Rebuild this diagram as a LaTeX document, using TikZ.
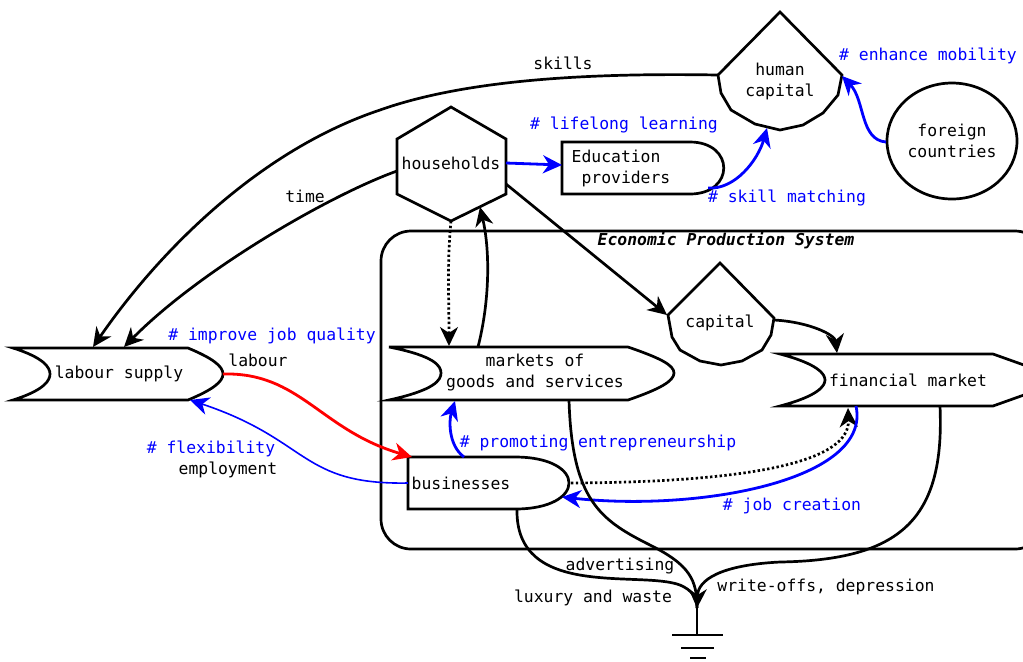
\documentclass[tikz,border=0pt]{standalone}
\usepackage{fontspec}
\setmainfont{DejaVu Sans Mono}
\usetikzlibrary{arrows.meta}
\begin{document}
\begin{tikzpicture}[x=0.5pt,y=-0.5pt,
  outline/.style={draw=black, line width=1.35pt, line join=miter},
  txt/.style={font=\fontsize{8.2}{10.5}\selectfont, align=center, inner sep=0pt},
  btxt/.style={txt, text=blue},
  tip/.style={-{Stealth[length=9.5pt,width=9pt,inset=3pt]}},
  flow/.style={draw=black, line width=1.35pt, tip},
  bflow/.style={draw=blue, line width=1.4pt, tip},
  dotflow/.style={flow, dash pattern=on 1.2pt off 1.2pt}]
\useasboundingbox (0,0) rectangle (1023,661);

% ---- economic production system frame
\draw[outline, rounded corners=15pt] (381,231) rectangle (1045,549);
\node[txt, font=\fontsize{8.2}{10.5}\selectfont\bfseries\itshape] (eps) at (726,241) {Economic Production System};

% ---- human capital
\draw[outline] (780,12) -- (842,75) -- (838,95) -- (823,113) -- (803,125) -- (780,130)
  -- (755,124) -- (731,110) -- (721,93) -- (718,75) -- cycle;
\node[txt] (hc) at (780,81) {human\\capital};
\coordinate (hc-w) at (718,75);
\coordinate (hc-e) at (842,76);
\coordinate (hc-s) at (767,128);

% ---- foreign countries
\draw[outline] (952,141) ellipse [x radius=32.5pt, y radius=29pt];
\node[txt] (fc) at (952,141) {foreign\\countries};
\coordinate (fc-w) at (886,142);

% ---- households
\draw[outline] (451,107) -- (506,139) -- (506,194) -- (451,221) -- (397,194) -- (397,139) -- cycle;
\node[txt] (hh) at (451,163) {households};
\coordinate (hh-e) at (506,163);
\coordinate (hh-se) at (506,184);
\coordinate (hh-w) at (397,171);
\coordinate (hh-s) at (451,221);
\coordinate (hh-sin) at (480,207);

% ---- education providers
\draw[outline] (562,142) -- (690,142) .. controls (735,142) and (735,194) .. (690,194) -- (562,194) -- cycle;
\node[txt, align=left] (edu) at (621,168) {Education\\\ providers};
\coordinate (edu-w) at (562,165);
\coordinate (edu-se) at (708,188);

% ---- labour supply
\draw[outline] (13,348) -- (188,348) .. controls (212,358) and (223,366) .. (223,374)
  .. controls (223,382) and (212,390) .. (188,400) -- (13,400)
  .. controls (45,390) and (50,380) .. (50,374) .. controls (50,368) and (45,358) .. (13,348) -- cycle;
\node[txt] (ls) at (119,374) {labour supply};
\coordinate (ls-n1) at (93,347);
\coordinate (ls-n2) at (124,347);
\coordinate (ls-e) at (223,374);
\coordinate (ls-se) at (190,400);

% ---- markets of goods and services
\draw[outline] (389,347) -- (628,347) .. controls (660,358) and (674,365) .. (674,373)
  .. controls (674,381) and (660,389) .. (628,400) -- (389,400)
  .. controls (435,390) and (441,380) .. (441,373) .. controls (441,366) and (435,356) .. (389,347) -- cycle;
\node[txt] (mk) at (535,373) {markets of\\goods and services};
\coordinate (mk-n1) at (449,346);
\coordinate (mk-n2) at (478,347);
\coordinate (mk-s1) at (455,401);
\coordinate (mk-s2) at (569,400);

% ---- capital
\draw[outline] (720,263) -- (774,318) -- (771,335) -- (762,350) -- (742,361) -- (721,365)
  -- (700,361) -- (680,350) -- (672,337) -- (668,315) -- cycle;
\node[txt] (cap) at (720,323) {capital};
\coordinate (cap-w) at (667,315);
\coordinate (cap-e) at (774,320);

% ---- financial market
\draw[outline] (780,354) -- (993,354) -- (1066,380) -- (993,406) -- (780,406)
  .. controls (818,396) and (825,386) .. (825,380) .. controls (825,374) and (818,364) .. (780,354) -- cycle;
\node[txt] (fm) at (908,380) {financial market};
\coordinate (fm-n) at (837,353);
\coordinate (fm-s1) at (848,408);
\coordinate (fm-s2) at (856,406);
\coordinate (fm-s3) at (940,406);

% ---- businesses
\draw[outline] (408,457) -- (515,457) .. controls (587,457) and (587,509) .. (515,509) -- (408,509) -- cycle;
\node[txt] (bus) at (461,483) {businesses};
\coordinate (bus-n) at (464,457);
\coordinate (bus-nw) at (412,457);
\coordinate (bus-w) at (408,483);
\coordinate (bus-e) at (571,483);
\coordinate (bus-se) at (562,497);
\coordinate (bus-s) at (517,509);

% ---- sink (ground)
\coordinate (gnd) at (697,608);
\coordinate (gnd-b) at (697,635);
\draw[line width=1.35pt] (gnd) -- (gnd-b);
\draw[line width=1.35pt] (672,635) -- (723,635);
\draw[line width=1.35pt] (681,648) -- (714,648);
\draw[line width=1.35pt] (690,658) -- (706,658);

% ---- flows
\draw[flow] (hc-w) .. controls (600,73) and (470,78) .. (380,110)
  .. controls (260,150) and (160,250) .. (ls-n1);
\node[txt] (l-skills) at (563,63) {skills};

\draw[flow] (hh-w) .. controls (330,195) and (200,270) .. (ls-n2);
\node[txt] (l-time) at (305,196) {time};

\draw[bflow] (hh-e) -- (edu-w);
\node[btxt] (l-life) at (624,125) {\# lifelong learning};

\draw[bflow] (edu-se) .. controls (735,190) and (758,160) .. (hc-s);
\node[btxt] (l-skm) at (787,198) {\# skill matching};

\draw[bflow] (fc-w) .. controls (860,140) and (865,100) .. (hc-e);
\node[btxt] (l-mob) at (928,56) {\# enhance mobility};

\draw[flow] (hh-se) -- (cap-w);

\draw[dotflow] (hh-s) .. controls (447,260) and (449,300) .. (mk-n1);
\draw[flow] (mk-n2) .. controls (490,300) and (490,250) .. (hh-sin);

\draw[flow] (cap-e) .. controls (810,322) and (835,335) .. (fm-n);

\draw[draw=red, line width=1.4pt, tip] (ls-e) .. controls (300,372) and (320,430) .. (bus-nw);
\node[btxt] (l-jq) at (272,336) {\# improve job quality};
\node[txt] (l-lab) at (258,360) {labour};

\draw[draw=blue, line width=0.8pt, tip] (bus-w) .. controls (300,485) and (310,440) .. (ls-se);
\node[btxt] (l-flex) at (211,449) {\# flexibility};
\node[txt] (l-emp) at (228,470) {employment};

\draw[bflow] (bus-n) .. controls (448,445) and (449,420) .. (mk-s1);
\node[btxt] (l-ent) at (598,443) {\# promoting entrepreneurship};

\draw[dotflow] (bus-e) .. controls (760,482) and (850,460) .. (fm-s1);

\draw[bflow] (fm-s2) .. controls (872,480) and (700,512) .. (bus-se);
\node[btxt] (l-job) at (792,506) {\# job creation};

% ---- losses into the sink
\draw[line width=1.35pt] (mk-s2) .. controls (572,500) and (600,520) .. (650,545)
  .. controls (690,565) and (697,580) .. (gnd);
\draw[line width=1.35pt] (bus-s) .. controls (515,600) and (640,570) .. (680,585)
  .. controls (692,590) and (697,598) .. (gnd);
\draw[flow] (fm-s3) .. controls (945,520) and (900,560) .. (780,562)
  .. controls (720,565) and (698,580) .. (gnd);
\node[txt] (l-adv) at (620,566) {advertising};
\node[txt] (l-lux) at (593,598) {luxury and waste};
\node[txt] (l-wo) at (826,587) {write-offs, depression};
\end{tikzpicture}
\end{document}
